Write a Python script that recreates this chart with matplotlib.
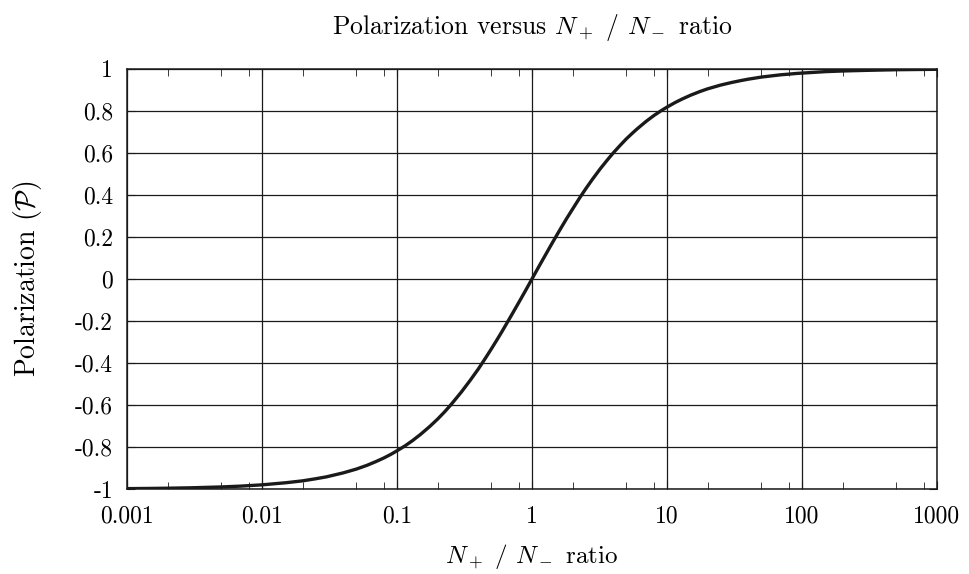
import numpy as np
import matplotlib
matplotlib.use('Agg')
import matplotlib.pyplot as plt
from matplotlib.ticker import FixedLocator, FixedFormatter, NullFormatter

plt.rcParams['font.family'] = 'serif'
plt.rcParams['font.serif'] = ['cmr10', 'DejaVu Serif']
plt.rcParams['mathtext.fontset'] = 'cm'
plt.rcParams['axes.unicode_minus'] = False

# ratio N+/N- and polarization
ratio = [0.001, 0.0015, 0.002, 0.003, 0.005, 0.007,
         0.01, 0.015, 0.02, 0.025, 0.03, 0.04, 0.05, 0.06, 0.07, 0.08, 0.09,
         0.1, 0.115, 0.13, 0.15, 0.175, 0.2, 0.225, 0.25, 0.3, 0.35, 0.4, 0.45,
         0.5, 0.55, 0.6, 0.7, 0.8, 0.9,
         1, 1.1, 1.25, 1.4, 1.6, 1.8, 2, 2.25, 2.5, 2.8, 3.2, 3.6, 4, 4.5,
         5, 5.5, 6, 7, 8, 9,
         10, 11.5, 13, 15, 17.5, 20, 25, 30, 35, 40, 50, 60, 70, 80, 90,
         100, 150, 200, 300, 500, 700, 1000]
polarization = [-0.998, -0.997, -0.996, -0.994, -0.990, -0.986,
                -0.980, -0.970, -0.961, -0.951, -0.942, -0.923, -0.905, -0.887, -0.869, -0.852, -0.835,
                -0.818, -0.794, -0.770, -0.739, -0.702, -0.667, -0.633, -0.600, -0.538, -0.481, -0.429, -0.379,
                -0.333, -0.290, -0.250, -0.176, -0.111, -0.053,
                0.000, 0.048, 0.111, 0.167, 0.231, 0.286, 0.333, 0.385, 0.429, 0.474, 0.524, 0.565, 0.600, 0.636,
                0.667, 0.692, 0.714, 0.750, 0.778, 0.800,
                0.818, 0.840, 0.857, 0.875, 0.892, 0.905, 0.923, 0.935, 0.944, 0.951, 0.961, 0.967, 0.972, 0.975, 0.978,
                0.980, 0.987, 0.990, 0.993, 0.996, 0.997, 0.998]

x_ticks = [0.001, 0.01, 0.1, 1, 10, 100, 1000]
x_labels = ['0.001', '0.01', '0.1', '1', '10', '100', '1000']
y_ticks = [-1, -0.8, -0.6, -0.4, -0.2, 0, 0.2, 0.4, 0.6, 0.8, 1]
y_labels = ['-1', '-0.8', '-0.6', '-0.4', '-0.2', '0', '0.2', '0.4', '0.6', '0.8', '1']

fig = plt.figure(figsize=(9.69, 5.74), dpi=100)
ax = fig.add_axes([0.131, 0.148, 0.836, 0.732])

ax.plot(ratio, polarization, color='#1a1a1a', linewidth=2.4, zorder=3)

ax.set_xscale('log')
ax.set_xlim(0.001, 1000)
ax.set_ylim(-1, 1)

ax.xaxis.set_major_locator(FixedLocator(x_ticks))
ax.xaxis.set_major_formatter(FixedFormatter(x_labels))
minor = [m * 10.0 ** e for e in range(-3, 3) for m in (2, 5, 8)]
ax.xaxis.set_minor_locator(FixedLocator(minor))
ax.xaxis.set_minor_formatter(NullFormatter())
ax.yaxis.set_major_locator(FixedLocator(y_ticks))
ax.yaxis.set_major_formatter(FixedFormatter(y_labels))

ax.grid(True, which='major', color='#1a1a1a', linewidth=0.9)
ax.tick_params(which='both', direction='in', top=True, right=True,
               labelsize=17, color='#1a1a1a')
ax.tick_params(axis='x', which='major', length=6, pad=12)
ax.tick_params(axis='y', which='major', length=6, pad=10)
ax.tick_params(which='minor', length=5)
for s in ax.spines.values():
    s.set_linewidth(1.1)
    s.set_color('#1a1a1a')

ax.set_title('Polarization versus $N_+$ / $N_-$ ratio', fontsize=18.5, pad=25)
ax.set_xlabel('$N_+$ / $N_-$ ratio', fontsize=18, labelpad=10)
ax.set_ylabel(r'Polarization ($\mathcal{P}$)', fontsize=20, labelpad=22)

fig.savefig('out.png', dpi=100)
